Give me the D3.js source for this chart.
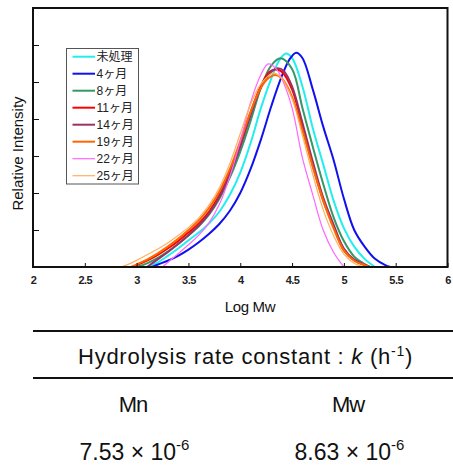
<!DOCTYPE html>
<html><head><meta charset="utf-8">
<script src="https://cdn.jsdelivr.net/npm/d3@7"></script>
<style>
html,body{margin:0;padding:0;background:#fff;}
svg{display:block;}
text{font-family:"Liberation Sans",Arial,"Noto Sans CJK JP",sans-serif;}
</style></head>
<body>
<svg id="chart" width="453" height="472"></svg>
<script>
// ---------- data ----------
const seriesNames = ["未処理","4ヶ月","8ヶ月","11ヶ月","14ヶ月","19ヶ月","22ヶ月","25ヶ月"];
const xTicks = [2,2.5,3,3.5,4,4.5,5,5.5,6];
const xTickLabels = ["2","2.5","3","3.5","4","4.5","5","5.5","6"];
const yTicks = [0,1,2,3,4,5,6,7];

// [LogMw, relative intensity]
const sUntreated = [[3.1,0],[3.2,0.12],[3.3,0.3],[3.4,0.5],[3.5,0.72],[3.6,0.93],[3.7,1.18],[3.8,1.5],[3.9,1.95],[4.0,2.55],[4.1,3.35],[4.2,4.3],[4.3,5.1],[4.38,5.6],[4.44,5.77],[4.5,5.65],[4.6,4.88],[4.7,3.75],[4.8,2.78],[4.9,1.8],[5.0,1.05],[5.1,0.55],[5.2,0.22],[5.3,0]];
const s4m = [[3.15,0],[3.2,0.06],[3.3,0.17],[3.4,0.3],[3.5,0.47],[3.6,0.67],[3.7,0.9],[3.8,1.17],[3.9,1.52],[4.0,2.0],[4.1,2.65],[4.2,3.45],[4.3,4.35],[4.4,5.15],[4.48,5.63],[4.54,5.79],[4.6,5.65],[4.7,4.8],[4.8,3.8],[4.9,2.9],[5.0,1.85],[5.1,1.0],[5.2,0.55],[5.3,0.22],[5.4,0.05],[5.45,0]];
const s8m = [[3.0,0],[3.1,0.1],[3.2,0.24],[3.3,0.42],[3.4,0.62],[3.5,0.85],[3.6,1.1],[3.7,1.42],[3.8,1.85],[3.9,2.42],[4.0,3.12],[4.1,3.95],[4.2,4.85],[4.3,5.45],[4.39,5.64],[4.5,5.35],[4.6,4.3],[4.7,3.25],[4.8,2.25],[4.9,1.35],[5.0,0.7],[5.1,0.28],[5.2,0.08],[5.25,0]];
const s11m = [[2.95,0],[3.0,0.05],[3.1,0.17],[3.2,0.32],[3.3,0.5],[3.4,0.7],[3.5,0.93],[3.6,1.18],[3.7,1.5],[3.8,1.95],[3.9,2.55],[4.0,3.32],[4.1,4.18],[4.2,4.9],[4.28,5.27],[4.34,5.34],[4.4,5.28],[4.5,4.8],[4.6,3.8],[4.7,2.75],[4.8,1.8],[4.9,1.1],[5.0,0.45],[5.1,0.18],[5.2,0.05],[5.25,0]];
const s14m = [[3.1,0],[3.2,0.2],[3.3,0.4],[3.4,0.62],[3.5,0.86],[3.6,1.12],[3.7,1.45],[3.8,1.9],[3.9,2.5],[4.0,3.25],[4.1,4.1],[4.2,4.85],[4.3,5.28],[4.36,5.37],[4.42,5.3],[4.5,4.88],[4.6,3.9],[4.7,2.85],[4.8,1.88],[4.9,1.15],[5.0,0.5],[5.1,0.2],[5.2,0.06],[5.25,0]];
const s19m = [[2.95,0],[3.0,0.07],[3.1,0.2],[3.2,0.36],[3.3,0.55],[3.4,0.76],[3.5,1.0],[3.6,1.26],[3.7,1.6],[3.8,2.05],[3.9,2.65],[4.0,3.4],[4.1,4.2],[4.2,4.85],[4.28,5.12],[4.34,5.19],[4.4,5.1],[4.5,4.6],[4.6,3.7],[4.7,2.7],[4.8,1.8],[4.9,1.05],[5.0,0.45],[5.1,0.17],[5.2,0.05],[5.25,0]];
const s22m = [[3.25,0],[3.3,0.12],[3.4,0.36],[3.5,0.6],[3.6,0.86],[3.7,1.2],[3.8,1.7],[3.9,2.45],[4.0,3.4],[4.1,4.45],[4.2,5.2],[4.27,5.49],[4.35,5.35],[4.4,5.1],[4.5,4.3],[4.6,2.95],[4.7,1.95],[4.8,1.0],[4.9,0.4],[5.0,0]];
const s25m = [[2.85,0],[2.9,0.05],[3.0,0.18],[3.1,0.33],[3.2,0.48],[3.3,0.65],[3.4,0.85],[3.5,1.07],[3.6,1.33],[3.7,1.68],[3.8,2.15],[3.9,2.8],[4.0,3.6],[4.1,4.4],[4.2,4.95],[4.32,5.24],[4.4,5.1],[4.5,4.55],[4.6,3.55],[4.7,2.5],[4.8,1.55],[4.9,0.85],[5.0,0.35],[5.1,0.1],[5.2,0]];
const seriesData = [sUntreated,s4m,s8m,s11m,s14m,s19m,s22m,s25m];

// table
const tableTitle = "Hydrolysis rate constant : ";
const tableHeaders = ["Mn","Mw"];
const tableMantissa = ["7.53","8.63"];
const tableExponent = ["-6","-6"];

// ---------- styles ----------
const colors = ["#22EEEE","#1010F0","#339966","#FF0000","#993366","#FF6600","#FF66FF","#FFB060"];
const widths = [2,2,2,2,2,2,1.2,1.2];

const svg = d3.select("#chart");
const L=33, R=447.5, T=8, B=267;
const x = d3.scaleLinear().domain([2,6]).range([L,R]);
const y = d3.scaleLinear().domain([0,7]).range([B,T]);

// curves
const line = d3.line().x(d=>x(d[0])).y(d=>y(d[1])).curve(d3.curveCatmullRom.alpha(0.5));
svg.append("g").selectAll("path").data(seriesData).join("path")
  .attr("d", line).attr("fill","none")
  .attr("stroke",(d,i)=>colors[i]).attr("stroke-width",(d,i)=>widths[i])
  .attr("stroke-linejoin","round");

// axes
const xAxis = d3.axisBottom(x).tickValues(xTicks).tickSize(-4).tickPadding(9)
  .tickFormat((d,i)=>xTickLabels[i]);
const gx = svg.append("g").attr("transform",`translate(0,${B})`).call(xAxis);
gx.select(".domain").remove();
gx.selectAll("line").attr("stroke","#111").attr("stroke-width",1);
gx.selectAll("text").attr("font-size",11).attr("font-weight","bold").attr("fill","#222")
  .attr("font-family","Liberation Sans, Arial").attr("letter-spacing","-0.5");

const yAxis = d3.axisLeft(y).tickValues(yTicks.slice(1,-1)).tickSize(-6).tickFormat("");
const gy = svg.append("g").attr("transform",`translate(${L},0)`).call(yAxis);
gy.select(".domain").remove();
gy.selectAll("line").attr("stroke","#111").attr("stroke-width",1);

// frame
svg.append("rect").attr("x",L).attr("y",T).attr("width",R-L).attr("height",B-T)
  .attr("fill","none").attr("stroke","#111").attr("stroke-width",2);

// axis titles
svg.append("text").attr("x",250).attr("y",311.5).attr("text-anchor","middle")
  .attr("font-size",15).attr("fill","#111").attr("letter-spacing","-0.3").text("Log Mw");
svg.append("text").attr("transform","translate(23,153.5) rotate(-90)").attr("text-anchor","middle")
  .attr("font-size",15).attr("fill","#111").text("Relative Intensity");

// legend
const lg = svg.append("g");
lg.append("rect").attr("x",66.5).attr("y",48.5).attr("width",72).attr("height",135.5)
  .attr("fill","#fff").attr("stroke","#555").attr("stroke-width",1);
seriesNames.forEach((n,i)=>{
  const cy = 56.7 + i*17;
  lg.append("line").attr("x1",72.5).attr("x2",95).attr("y1",cy).attr("y2",cy)
    .attr("stroke",colors[i]).attr("stroke-width",widths[i]);
  lg.append("text").attr("x",96.5).attr("y",cy+4.3).attr("font-size",12).attr("fill","#222")
    .style("font-family","'Liberation Sans','Noto Sans CJK JP',sans-serif").text(n);
});

// table
svg.append("line").attr("x1",33).attr("x2",453).attr("y1",331).attr("y2",331).attr("stroke","#111").attr("stroke-width",2);
svg.append("line").attr("x1",33).attr("x2",453).attr("y1",378).attr("y2",378).attr("stroke","#111").attr("stroke-width",2);

const tt = svg.append("text").attr("x",78).attr("y",363.5).attr("font-size",22).attr("fill","#111");
tt.append("tspan").text(tableTitle);
tt.append("tspan").attr("font-style","italic").text("k");
tt.append("tspan").text(" (h");
tt.append("tspan").attr("font-size",14).attr("dy",-8).text("-1");
tt.append("tspan").attr("dy",8).text(")");
const nat = tt.node().getComputedTextLength();
const nch = tt.text().length;
tt.attr("letter-spacing", ((335-nat)/nch).toFixed(2));

const colX = [133,348];
tableHeaders.forEach((h,i)=>{
  svg.append("text").attr("x",colX[i]).attr("y",412).attr("text-anchor","middle")
    .attr("font-size",22).attr("letter-spacing","-1").attr("fill","#111").text(h);
  const t = svg.append("text").attr("x",colX[i]+1.5).attr("y",460).attr("text-anchor","middle")
    .attr("font-size",23).attr("fill","#111");
  t.append("tspan").text(tableMantissa[i]+" × 10");
  t.append("tspan").attr("font-size",15).attr("dy",-10).text(tableExponent[i]);
});
</script>
</body></html>
